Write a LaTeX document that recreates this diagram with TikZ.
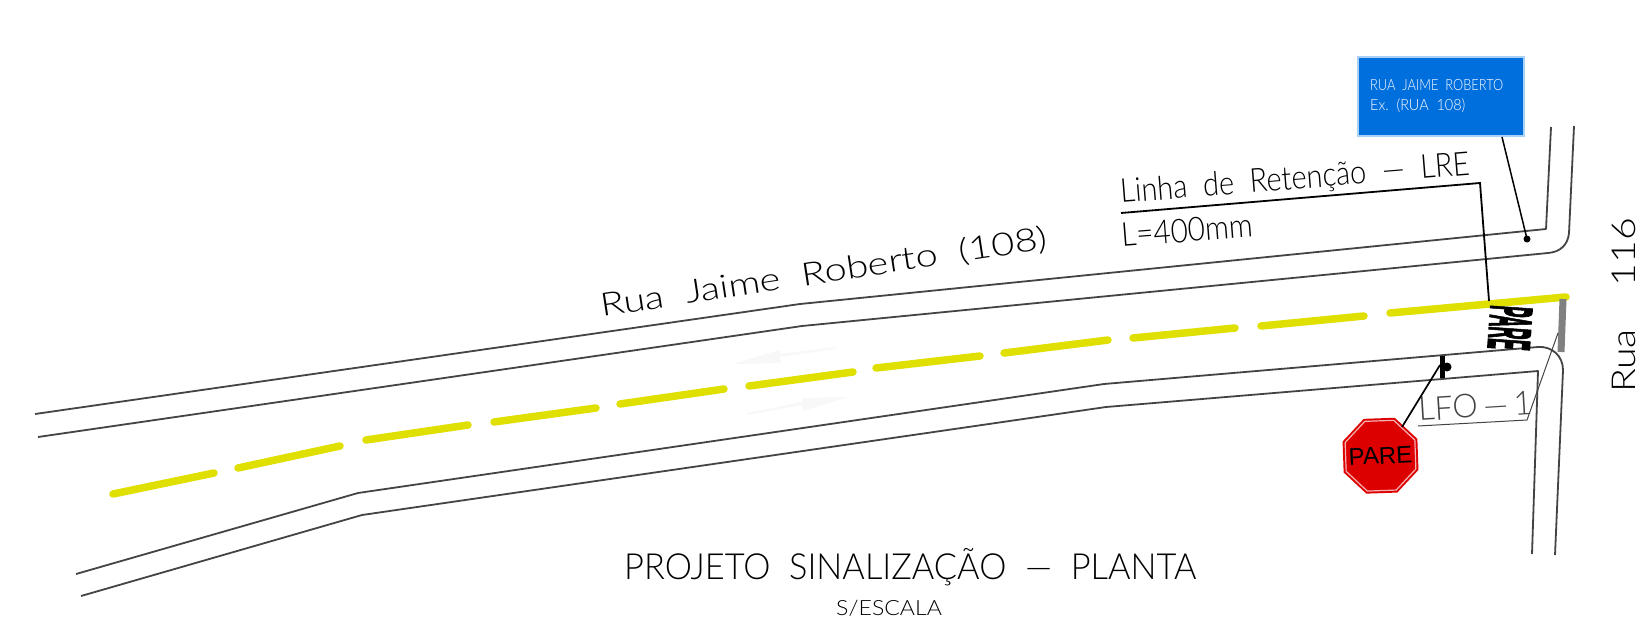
\documentclass[tikz,border=0pt]{standalone}
\usepackage{fontspec}
\usepackage{graphicx}
\usetikzlibrary{shapes.geometric}
\setmainfont{Liberation Sans}
\newfontfamily\cadfont[UprightFont={* Light}]{Lato}
\newfontfamily\markfont[BoldFeatures={FakeBold=3}]{Liberation Sans}
\definecolor{roadline}{HTML}{444444}
\definecolor{lane}{HTML}{DFDF00}
\definecolor{signblue}{HTML}{006FDE}
\definecolor{signedge}{HTML}{A9D0F7}
\definecolor{stopred}{HTML}{DD0000}
\definecolor{barGray}{HTML}{808080}
\definecolor{ghost}{HTML}{F8F8F8}
\tikzset{
 x=1pt,y=-1pt,
 road/.style={draw=roadline,line width=1.8pt,line join=round},
 dash piece/.style={draw=lane,line width=7.5pt,line cap=round},
 leader/.style={draw=black,line width=1.8pt},
 cad/.style={inner sep=0pt,font=\cadfont,text=black},
 ghostarrow/.style={fill=ghost,draw=none}
}
\newcommand{\cadtext}[3]{\scalebox{#2}[1]{\fontsize{#1}{#1}\selectfont #3}}
\begin{document}
\begin{tikzpicture}
\useasboundingbox (0,0) rectangle (1640,621);
\fill[white] (0,0) rectangle (1640,621);
% faint arrows
\fill[ghostarrow] (835,347) -- (780,354) -- (780,350) -- (733,364) -- (781,363) -- (780,357) -- (835,349) -- cycle;
\fill[ghostarrow] (747,413) -- (802,402) -- (802,398) -- (848,397) -- (803,411) -- (802,405) -- (747,415) -- cycle;
% roads
\path[road] (35,414) -- (800,304) -- (1546,229) -- (1551,127);
\path[road] (38,437) -- (802,326) -- (1548,253) .. controls (1561,252) and (1568,244) .. (1569,233) -- (1574,126);
\path[road] (76,574) -- (358,493) -- (1104,384) -- (1538,347) .. controls (1552,346) and (1563,356) .. (1563,370) -- (1555,555);
\path[road] (81,596) -- (362,515) -- (1106,407) -- (1538,371) -- (1532,554);
% centre line
\foreach \a/\b/\c/\d in {113/494/214/473,238/468/340/446,366/440/468/425,494/422/596/408,620/404/724/389,749/386/853/372,876/368/980/356,1004/353/1108/340,1133/338/1235/328,1261/326/1364/316,1390/313/1566/297}
  \draw[dash piece] (\a,\b) -- (\c,\d);
% gray bar
\draw[barGray,line width=7pt] (1563,299) -- (1561,352);
% PARE marking
\node[inner sep=0pt,rotate=-94] (mark) at (1510,328) {\scalebox{0.27}[1]{\fontsize{60}{60}\selectfont\markfont\bfseries PARE}};
% LRE leader
\node[cad,anchor=base west,rotate=4.6] (lre) at (1121,203) {\cadtext{33}{0.88}{Linha\ \ de\ \ Retenção\ \ —\ \ LRE}};
\node[cad,anchor=base west,rotate=4.5] (len) at (1122,247) {\cadtext{33}{0.9}{L=400mm}};
\coordinate (lreA) at (1121,213);
\coordinate (lreB) at (1480,183);
\coordinate (lreC) at (1489,301);
\draw[leader] (lreA) -- (lreB) -- (lreC);
% sign
\node[draw=signedge,fill=signblue,line width=2pt,minimum width=166pt,minimum height=79pt,inner sep=0pt] (sign) at (1441,96.5) {};
\node[inner sep=0pt,anchor=base west,text=white,font=\cadfont] (signa) at (1370,90) {\cadtext{15.5}{0.827}{RUA\ \ JAIME\ \ ROBERTO}};
\node[inner sep=0pt,anchor=base west,text=white,font=\cadfont] (signb) at (1370,110) {\cadtext{15.5}{0.93}{Ex.\ \ (RUA\ \ 108)}};
\coordinate (signfoot) at (1502,137);
\node[circle,fill=black,inner sep=0pt,minimum size=7pt] (signdot) at (1527,239) {};
\draw[black,line width=1.5pt] (signfoot) -- (signdot.center);
% texts
\node[cad,anchor=base west,rotate=8.7] (rua) at (602,317) {\cadtext{32}{1.24}{Rua\ \ Jaime\ \ Roberto\ \ (108)}};
\node[cad,anchor=base west,rotate=90] (rua2) at (1635,393) {\cadtext{33}{1.19}{Rua\ \ \ \ 116}};
\node[cad,anchor=base west] (title) at (624,579) {\cadtext{36}{0.955}{PROJETO\ \ SINALIZAÇÃO\ \ —\ \ PLANTA}};
\node[cad,anchor=base west] (scale) at (836,615) {\cadtext{21}{1.1}{S/ESCALA}};
% LFO
\node[cad,anchor=base west,rotate=3.5,text=roadline] (lfo) at (1419,421) {\cadtext{33}{0.97}{LFO\,—\,1}};
\coordinate (lfoA) at (1418,426);
\coordinate (lfoB) at (1527,420);
\coordinate (lfoC) at (1558,333);
\draw[roadline,line width=1pt] (lfoA) -- (lfoB) -- (lfoC);
% post
\draw[black,line width=5pt] (1442,356) -- (1442,378);
\node[circle,fill=black,inner sep=0pt,minimum size=9pt] (postdot) at (1447,367) {};
\coordinate (postlead) at (1440,365);
% stop sign
\node[regular polygon,regular polygon sides=8,minimum size=81pt,inner sep=0pt,fill=stopred,rotate=2] (stop) at (1380.5,455.7) {};
\node[regular polygon,regular polygon sides=8,minimum size=75.5pt,inner sep=0pt,draw=white!70!stopred,line width=1.2pt,rotate=2] (stopin) at (1380.5,455.7) {};
\node[inner sep=0pt,rotate=3,font=\fontsize{24}{24}\selectfont] (stoptext) at (1380.5,455.7) {PARE};
\draw[black,line width=1.7pt] (1402,427) -- (postlead);
\end{tikzpicture}
\end{document}
